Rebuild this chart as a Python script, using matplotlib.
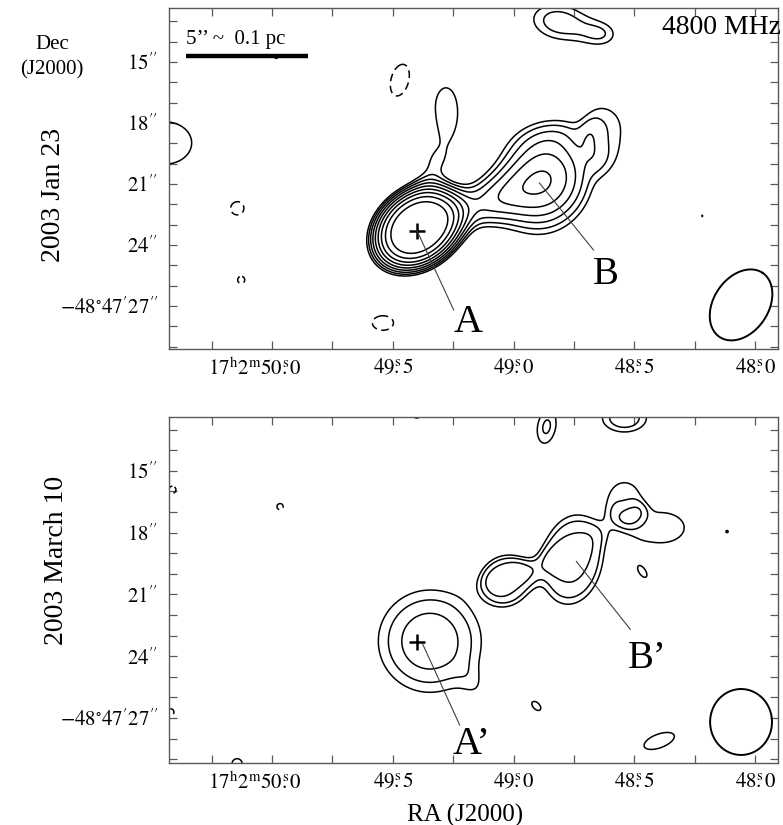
import numpy as np
import matplotlib
matplotlib.use("Agg")
from matplotlib import pyplot as plt
from matplotlib.ticker import FixedLocator, MultipleLocator
from matplotlib.transforms import ScaledTranslation

# contour levels (in units of image rms)
pos_levels = [3.0, 3.75, 4.69, 5.86, 7.32, 9.16, 11.4, 14.3, 17.9]
neg_levels = [-3.0]

# emission components: RA (s after 17h2m), Dec (arcsec after -48d47m),
# peak (rms), major / minor width (arcsec), position angle on the page (deg), profile index
jan_ra    = [49.397, 48.872, 49.120, 49.314, 49.281, 48.810, 48.612, 48.810, 48.624, 50.442,
             48.219, 49.983, 49.471, 50.145, 50.128, 49.541]
jan_dec   = [23.17, 20.80, 21.93, 19.71, 17.11, 18.44, 18.44, 13.03, 13.67, 18.98,
             22.57, 14.75, 15.89, 22.18, 25.72, 27.84]
jan_peak  = [24.2, 8.9, 4.5, 3.3, 3.2, 1.0, 2.6, 4.3, 2.5, 3.7,
             3.1, 3.2, -3.9, -3.6, -3.3, -3.7]
jan_smaj  = [1.7, 1.85, 1.6, 1.1, 1.4, 1.8, 1.9, 1.5, 0.8, 2.0,
             0.15, 0.2, 1.1, 0.6, 0.4, 0.8]
jan_smin  = [1.3, 1.6, 0.85, 0.6, 0.82, 0.6, 1.1, 0.95, 0.6, 1.6,
             0.1, 0.2, 0.6, 0.6, 0.4, 0.55]
jan_pa    = [38, 65, 22, 60, 90, 10, 90, -10, 0, 0,
             90, 0, 75, 0, 0, 0]
jan_pow   = [3, 2, 2, 2, 4, 2, 4, 2, 2, 2,
             2, 2, 2, 2, 2, 2]

mar_ra    = [49.347, 49.157, 48.756, 49.025, 48.946, 48.591, 48.541, 48.388, 48.467,
             48.864, 48.541, 49.401, 48.905, 48.397, 48.116, 50.145, 49.967, 50.413, 50.420]
mar_dec   = [23.27, 25.50, 19.31, 20.28, 19.70, 17.71, 16.40, 17.76, 19.89,
             12.87, 12.44, 12.24, 26.42, 28.11, 17.95, 29.22, 16.74, 15.92, 26.71]
mar_peak  = [5.66, 1.0, 4.8, 4.0, 1.6, 1.4, 3.5, 3.3, 3.2,
             3.9, 4.5, 3.4, 3.3, 3.6, 3.05, 3.4, -3.3, -3.3, -3.25]
mar_smaj  = [2.25, 0.8, 2.2, 1.2, 1.6, 0.75, 1.1, 1.7, 0.9,
             1.1, 1.2, 0.4, 0.5, 1.3, 0.3, 0.5, 0.35, 0.4, 0.4]
mar_smin  = [2.2, 0.5, 1.5, 1.2, 0.5, 0.6, 1.0, 1.1, 0.45,
             0.6, 0.75, 0.4, 0.3, 0.55, 0.3, 0.5, 0.35, 0.4, 0.4]
mar_pa    = [0, -60, 80, 0, 20, 20, 90, 0, -55,
             80, 0, 0, -45, 20, 0, 0, 0, 0, 0]
mar_pow   = [2, 2, 4, 4, 2, 2, 4, 4, 2,
             2, 2, 2, 2, 2, 2, 2, 2, 2, 2]

# restoring beams: RA, Dec, major, minor (arcsec), PA on page (deg)
beam_jan = (48.058, 26.95, 3.8, 2.7, 56)
beam_mar = (48.058, 27.19, 3.2, 3.05, 90)

cross_ra, cross_dec = 49.40, 23.3

ra_ticks = [50.0, 49.5, 49.0, 48.5, 48.0]
ra_labels = [r"$17^{\rm h}2^{\rm m}50\overset{\rm s}{.}0$", r"$49\overset{\rm s}{.}5$",
             r"$49\overset{\rm s}{.}0$", r"$48\overset{\rm s}{.}5$", r"$48\overset{\rm s}{.}0$"]
dec_ticks = [15, 18, 21, 24, 27]
dec_labels = [r"$15^{\prime\prime}$", r"$18^{\prime\prime}$", r"$21^{\prime\prime}$",
              r"$24^{\prime\prime}$", r"$-48^{\circ}47^{\prime}27^{\prime\prime}$"]

RA_SCALE = 11.9   # page arcsec per second of RA


def sky_field(ra, dec, c_ra, c_dec, peak, smaj, smin, pa, pw):
    f = np.zeros_like(ra)
    for x0, y0, p, sj, sn, a, k in zip(c_ra, c_dec, peak, smaj, smin, pa, pw):
        dx = (x0 - ra) * RA_SCALE
        dy = y0 - dec
        t = np.radians(a)
        along = dx * np.cos(t) + dy * np.sin(t)
        perp = -dx * np.sin(t) + dy * np.cos(t)
        q = (along / sj) ** 2 + (perp / sn) ** 2
        f += p * np.exp(-0.5 * q ** (k / 2.0))
    return f


def beam_outline(ax, beam):
    x0, y0, bmaj, bmin, pa = beam
    th = np.linspace(0, 2 * np.pi, 200)
    t = np.radians(pa)
    a = 0.5 * bmaj * np.cos(th)
    b = 0.5 * bmin * np.sin(th)
    dx = a * np.cos(t) - b * np.sin(t)
    dy = a * np.sin(t) + b * np.cos(t)
    ax.plot(x0 - dx / RA_SCALE, y0 - dy, color='k', lw=1.4)


def style_axes(ax, ylim):
    ax.set_xlim(50.427, 47.905)
    ax.set_ylim(*ylim)
    ax.xaxis.set_major_locator(FixedLocator(ra_ticks))
    ax.set_xticklabels(ra_labels)
    ax.xaxis.set_minor_locator(MultipleLocator(0.25))
    ax.yaxis.set_major_locator(FixedLocator(dec_ticks))
    ax.set_yticklabels(dec_labels)
    ax.yaxis.set_minor_locator(MultipleLocator(1))
    ax.tick_params(which='both', direction='in', top=True, right=True, length=6,
                   width=0.9, color='0.35', labelsize=15)
    ax.tick_params(axis='x', pad=7)
    ax.tick_params(axis='y', pad=8)
    for s in ax.spines.values():
        s.set_color('0.35')
        s.set_linewidth(1.0)
    # the hour/minute prefix hangs to the left of the 50s tick
    first = ax.get_xticklabels()[0]
    first.set_horizontalalignment('right')
    first.set_transform(first.get_transform() + ScaledTranslation(0.29, 0, ax.figure.dpi_scale_trans))


plt.rcParams['font.family'] = ['Liberation Serif', 'DejaVu Serif']
plt.rcParams['mathtext.fontset'] = 'stix'

fig = plt.figure(figsize=(7.83, 8.25), dpi=100)
W, H = 783.0, 825.0
ax1 = fig.add_axes([169 / W, 1 - 349 / H, 609 / W, 341 / H])
ax2 = fig.add_axes([169 / W, 1 - 763 / H, 609 / W, 346 / H])

RA, DEC = np.meshgrid(np.linspace(50.45, 47.88, 700), np.linspace(12.2, 29.3, 560))

Z1 = sky_field(RA, DEC, jan_ra, jan_dec, jan_peak, jan_smaj, jan_smin, jan_pa, jan_pow)
Z2 = sky_field(RA, DEC, mar_ra, mar_dec, mar_peak, mar_smaj, mar_smin, mar_pa, mar_pow)

for ax, Z, beam, ylim in ((ax1, Z1, beam_jan, (29.12, 12.34)), (ax2, Z2, beam_mar, (29.18, 12.39))):
    ax.contour(RA, DEC, Z, pos_levels, colors='k', linewidths=1.1, linestyles='solid')
    cn = ax.contour(RA, DEC, Z, neg_levels, colors='k', linewidths=1.1, linestyles='dashed')
    cn.set_dashes([(0, (5, 3))])
    beam_outline(ax, beam)
    ax.plot(cross_ra, cross_dec, marker='+', ms=11, mew=1.8, color='k')
    style_axes(ax, ylim)

# labels and pointer lines
ax1.plot([cross_ra, 49.248], [cross_dec, 27.20], color='0.25', lw=0.8)
ax1.plot([48.893, 48.669], [20.95, 24.25], color='0.25', lw=0.8)
ax1.text(49.19, 27.84, "A", fontsize=29, ha='center', va='center')
ax1.text(48.616, 25.43, "B", fontsize=28, ha='center', va='center')
ax2.plot([49.376, 49.223], [23.42, 27.34], color='0.25', lw=0.8)
ax2.plot([48.74, 48.517], [19.40, 22.69], color='0.25', lw=0.8)
ax2.text(49.174, 28.26, "A’", fontsize=29, ha='center', va='center')
ax2.text(48.446, 24.10, "B’", fontsize=28, ha='center', va='center')

# scale bar
ax1.plot([50.355, 49.851], [14.70, 14.70], color='k', lw=3.2, solid_capstyle='butt')
ax1.text(50.355, 14.35, "5’’ ~  0.1 pc", fontsize=15, ha='left', va='bottom')

fig.text(662 / W, 1 - 28 / H, "4800 MHz", fontsize=20, ha='left', va='center')
fig.text(52 / W, 1 - 57 / H, "Dec\n(J2000)", fontsize=15, ha='center', va='center', linespacing=1.45)
fig.text(54 / W, 1 - 195 / H, "2003 Jan 23", fontsize=20, rotation=90, ha='center', va='center')
fig.text(57 / W, 1 - 560 / H, "2003 March 10", fontsize=20, rotation=90, ha='center', va='center')
fig.text(465 / W, 1 - 815 / H, "RA (J2000)", fontsize=18, ha='center', va='center')

fig.savefig("out.png", dpi=100)
